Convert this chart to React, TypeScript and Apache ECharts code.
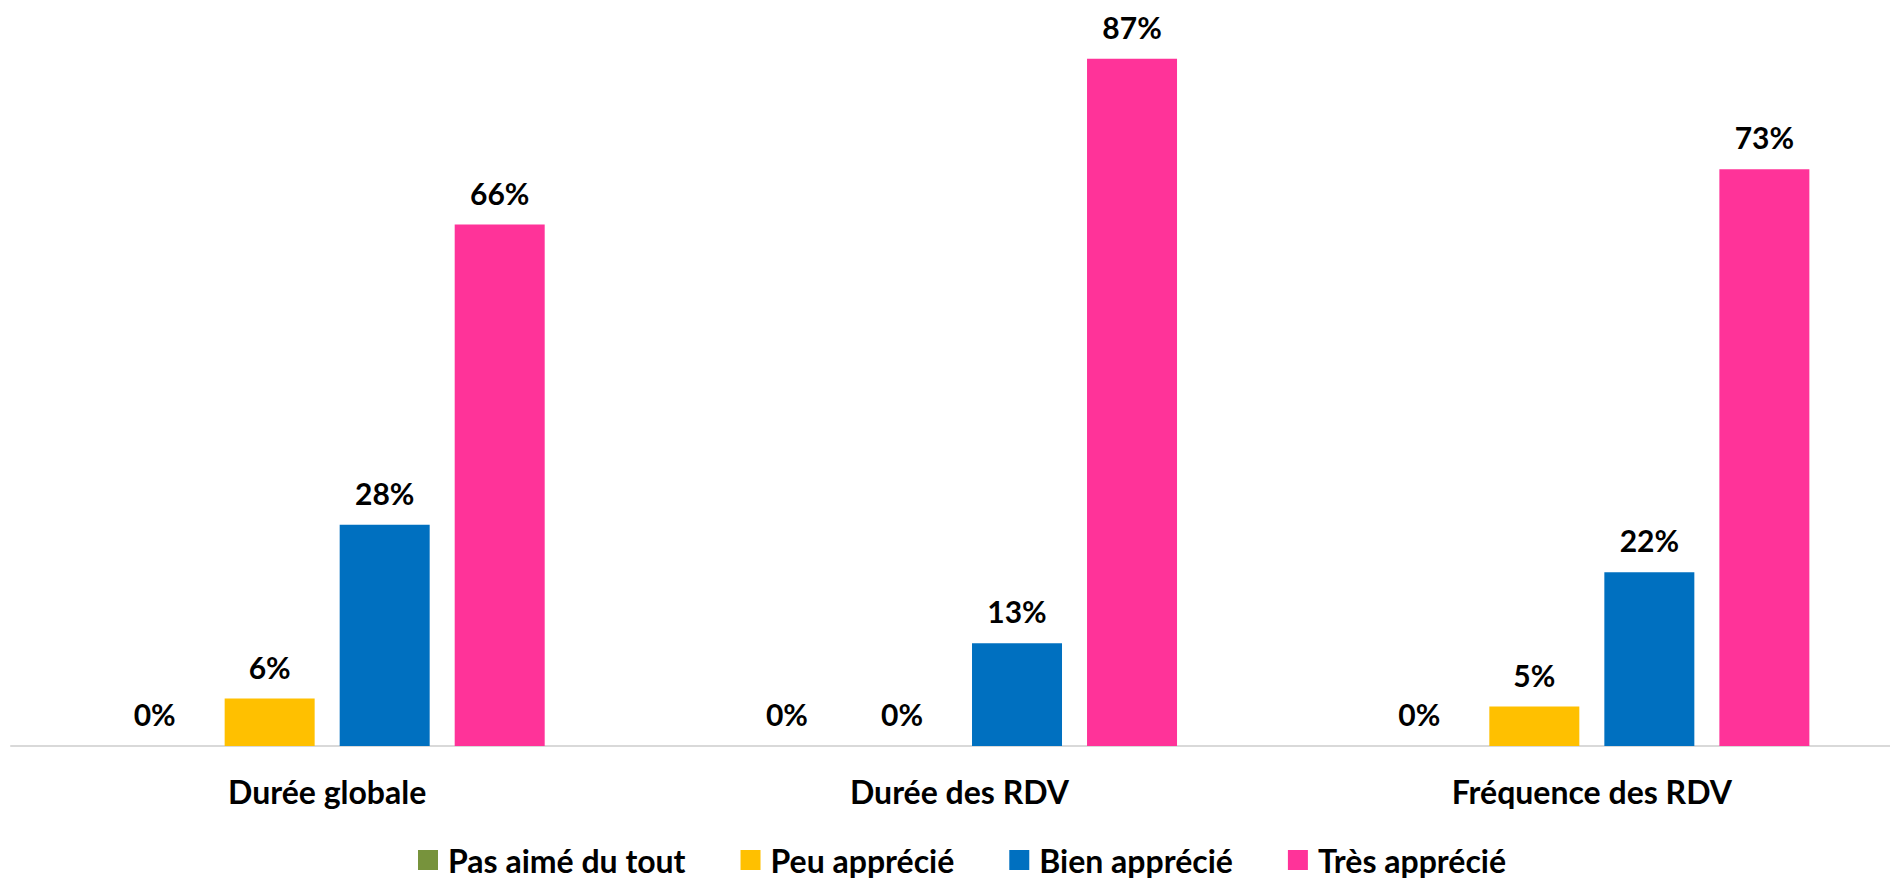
import React, { useEffect, useRef } from "react";
import * as echarts from "echarts";

const categories = ["Durée globale", "Durée des RDV", "Fréquence des RDV"];
const seriesNames = ["Pas aimé du tout", "Peu apprécié", "Bien apprécié", "Très apprécié"];
const pasAime = [0, 0, 0];
const peuApprecie = [6, 0, 5];
const bienApprecie = [28, 13, 22];
const tresApprecie = [66, 87, 73];
const colors = ["#77933C", "#FFC000", "#0070C0", "#FF3399"];

const FONT = "Lato";

export default function App() {
  const ref = useRef<HTMLDivElement>(null);
  useEffect(() => {
    if (!ref.current) return;
    const chart = echarts.init(ref.current, null, { renderer: "svg" });
    const values = [pasAime, peuApprecie, bienApprecie, tresApprecie];
    chart.setOption({
      animation: false,
      backgroundColor: "#ffffff",
      grid: { left: 11, top: 35, width: 1897, height: 711 },
      legend: {
        data: seriesNames,
        left: 413,
        top: 839,
        icon: "rect",
        itemWidth: 20,
        itemHeight: 20,
        itemGap: 55,
        textStyle: {
          fontFamily: FONT,
          fontWeight: "bold",
          fontSize: 32,
          color: "#000",
          lineHeight: 32,
          padding: [0, 0, 0, 5],
        },
      },
      xAxis: {
        type: "category",
        data: categories,
        axisLine: { show: true, lineStyle: { color: "#D9D9D9", width: 2 } },
        axisTick: { show: false },
        axisLabel: {
          margin: 29,
          fontFamily: FONT,
          fontWeight: "bold",
          fontSize: 32,
          color: "#000",
        },
      },
      yAxis: {
        type: "value",
        min: 0,
        max: 90,
        show: false,
        splitLine: { show: false },
      },
      series: seriesNames.map((name, i) => ({
        name,
        type: "bar",
        data: values[i],
        barWidth: 90,
        barGap: "27.8%",
        itemStyle: { color: colors[i] },
        label: {
          show: true,
          position: "top",
          distance: 17,
          formatter: (p: any) => `${p.value}%`,
          fontFamily: FONT,
          fontWeight: "bold",
          fontSize: 30,
          color: "#000",
        },
      })),
    });
    return () => chart.dispose();
  }, []);
  return (
    <div
      style={{
        position: "absolute",
        left: 0,
        top: 0,
        width: 1890,
        height: 878,
        overflow: "hidden",
        background: "#fff",
      }}
    >
      <div ref={ref} style={{ width: 1910, height: 878 }} />
    </div>
  );
}
